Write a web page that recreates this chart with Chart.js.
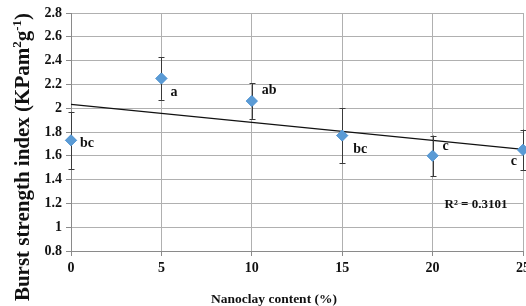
<!DOCTYPE html>
<html>
<head>
<meta charset="utf-8">
<script src="https://cdn.jsdelivr.net/npm/chart.js@4.4.1/dist/chart.umd.min.js"></script>
<style>
  html, body { margin: 0; padding: 0; background: #fff; }
  #wrap { width: 526px; height: 306px; }
</style>
</head>
<body>
<div id="wrap"><canvas id="burstChart"></canvas></div>
<script>
// values
const nanoclay = [0, 5, 10, 15, 20, 25];
const burstIndex = [1.73, 2.25, 2.06, 1.77, 1.60, 1.65];
const burstErr = [0.24, 0.18, 0.15, 0.23, 0.17, 0.17];
const groupLetters = ['bc', 'a', 'ab', 'bc', 'c', 'c'];
const rSquaredText = 'R\u00B2 = 0.3101';
const xTitle = 'Nanoclay content (%)';

// where each letter sits relative to its point (px)
const letterOffsets = [[9, 3], [9, 14], [10, -11], [11, 14], [10, -9], [-6, 12]];

const serif = '"Liberation Serif", "Times New Roman", serif';

// least squares line, same as excel's linear trendline
const fitLine = () => {
  const n = nanoclay.length;
  const mx = nanoclay.reduce((a, b) => a + b, 0) / n;
  const my = burstIndex.reduce((a, b) => a + b, 0) / n;
  let sxy = 0, sxx = 0;
  nanoclay.forEach((x, i) => { sxy += (x - mx) * (burstIndex[i] - my); sxx += (x - mx) * (x - mx); });
  const slope = sxy / sxx;
  const icpt = my - slope * mx;
  const x0 = nanoclay[0], x1 = nanoclay[n - 1];
  return [{x: x0, y: icpt + slope * x0}, {x: x1, y: icpt + slope * x1}];
};

const extrasPlugin = {
  id: 'extras',
  afterDatasetsDraw(chart) {
    const ctx = chart.ctx;
    const xs = chart.scales.x, ys = chart.scales.y;
    ctx.save();
    // error bars
    ctx.strokeStyle = '#3a3a3a';
    ctx.lineWidth = 1;
    nanoclay.forEach((x, i) => {
      const px = Math.round(xs.getPixelForValue(x)) + 0.5;
      const top = ys.getPixelForValue(burstIndex[i] + burstErr[i]);
      const bot = ys.getPixelForValue(burstIndex[i] - burstErr[i]);
      ctx.beginPath();
      ctx.moveTo(px, top); ctx.lineTo(px, bot);
      ctx.moveTo(px - 3, Math.round(top) + 0.5); ctx.lineTo(px + 3, Math.round(top) + 0.5);
      ctx.moveTo(px - 3, Math.round(bot) + 0.5); ctx.lineTo(px + 3, Math.round(bot) + 0.5);
      ctx.stroke();
    });
    // redraw markers over the bars
    chart.getDatasetMeta(0).data.forEach(pt => pt.draw(ctx));

    // group letters
    ctx.fillStyle = '#111';
    ctx.font = 'bold 14px ' + serif;
    ctx.textBaseline = 'middle';
    groupLetters.forEach((lbl, i) => {
      const px = xs.getPixelForValue(nanoclay[i]);
      const py = ys.getPixelForValue(burstIndex[i]);
      const off = letterOffsets[i];
      ctx.textAlign = off[0] < 0 ? 'right' : 'left';
      ctx.fillText(lbl, px + off[0], py + off[1]);
    });

    // r squared
    ctx.textBaseline = 'alphabetic';
    ctx.font = 'bold 13px ' + serif;
    ctx.textAlign = 'center';
    ctx.fillText(rSquaredText, xs.getPixelForValue(22.4), 208);

    // x title
    ctx.font = 'bold 13.5px ' + serif;
    ctx.fillText(xTitle, 274, 303);

    // y title with superscripts
    ctx.translate(29, 157);
    ctx.rotate(-Math.PI / 2);
    const parts = [
      ['Burst strength index (KPam', 21, 0],
      ['2', 13, -8],
      ['g', 21, 0],
      ['-1', 13, -8],
      [')', 21, 0]
    ];
    let total = 0;
    parts.forEach(p => { ctx.font = 'bold ' + p[1] + 'px ' + serif; total += ctx.measureText(p[0]).width; });
    let cx = -total / 2;
    ctx.textAlign = 'left';
    parts.forEach(p => {
      ctx.font = 'bold ' + p[1] + 'px ' + serif;
      ctx.fillText(p[0], cx, p[2]);
      cx += ctx.measureText(p[0]).width;
    });
    ctx.restore();
  }
};

const tickFmt = (v) => String(Number(v.toFixed(1)));

const ctxEl = document.getElementById('burstChart');
new Chart(ctxEl, {
  type: 'scatter',
  data: {
    datasets: [
      {
        data: nanoclay.map((x, i) => ({x: x, y: burstIndex[i]})),
        pointStyle: 'rectRot',
        pointRadius: 5.5,
        pointBackgroundColor: '#5b9bd5',
        pointBorderColor: '#5b9bd5',
        pointBorderWidth: 1,
        clip: false
      },
      {
        data: fitLine(),
        showLine: true,
        borderColor: '#111',
        borderWidth: 1.3,
        pointRadius: 0,
        clip: false
      }
    ]
  },
  plugins: [extrasPlugin],
  options: {
    responsive: true,
    maintainAspectRatio: false,
    animation: false,
    layout: { autoPadding: false, padding: { top: 13, right: 3, bottom: 0, left: 0 } },
    plugins: { legend: { display: false }, tooltip: { enabled: false } },
    scales: {
      x: {
        type: 'linear',
        min: 0, max: 25,
        ticks: { stepSize: 5, color: '#111', padding: 4, callback: tickFmt, font: { family: serif, size: 14, weight: 'bold' } },
        grid: { color: '#b0b0b0', tickLength: 5, tickColor: '#8a8a8a' },
        border: { color: '#8a8a8a' },
        afterFit: (s) => { s.height = 55; s.paddingLeft = 0; s.paddingRight = 0; }
      },
      y: {
        min: 0.8, max: 2.8,
        ticks: { stepSize: 0.2, color: '#111', padding: 4, callback: tickFmt, font: { family: serif, size: 14, weight: 'bold' } },
        grid: { color: '#b0b0b0', tickLength: 5, tickColor: '#8a8a8a' },
        border: { color: '#8a8a8a' },
        afterFit: (s) => { s.width = 71; s.paddingTop = 0; s.paddingBottom = 0; }
      }
    }
  }
});
</script>
</body>
</html>
